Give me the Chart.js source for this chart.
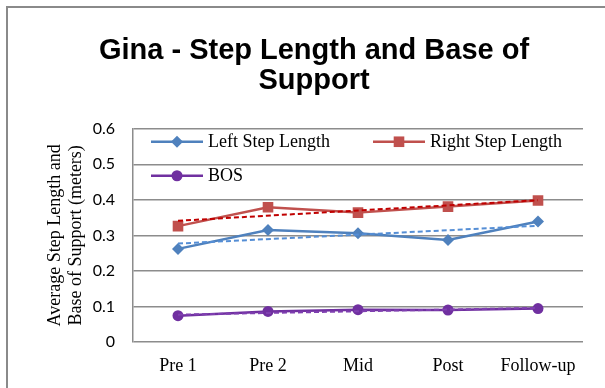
<!DOCTYPE html>
<html>
<head>
<meta charset="utf-8">
<script src="https://cdn.jsdelivr.net/npm/chart.js@4.4.0/dist/chart.umd.min.js"></script>
<style>
    body { margin: 0; background: #fff; overflow: hidden; }
    #marco { position: absolute; left: 6px; top: 6px; width: 700px; height: 500px; border: 2px solid #8a8a8a; }
    #caixa { position: absolute; left: 0; top: 0; width: 605px; height: 388px; }
</style>
</head>
<body>
<div id="marco"></div>
<div id="caixa"><canvas id="grafico" width="605" height="388"></canvas></div>
<script>
var sessoes = ['Pre 1', 'Pre 2', 'Mid', 'Post', 'Follow-up'];
var passoEsquerdo = [0.262, 0.315, 0.306, 0.287, 0.339];
var passoDireito = [0.326, 0.379, 0.364, 0.381, 0.398];
var bos = [0.074, 0.086, 0.091, 0.090, 0.094];

// linhas de tendencia (so o inicio e o fim)
var tendEsquerdo = [0.277, null, null, null, 0.327];
var tendDireito = [0.341, null, null, null, 0.399];
var tendBos = [0.077, null, null, null, 0.096];

var ticksY = [0, 0.1, 0.2, 0.3, 0.4, 0.5, 0.6];

function serie(label, dados, cor, estilo, raio) {
    return {
        label: label,
        data: dados,
        borderColor: cor,
        backgroundColor: cor,
        borderWidth: 2.5,
        pointStyle: estilo,
        pointRadius: raio,
        pointHoverRadius: raio,
        pointBorderWidth: 0,
        tension: 0,
        order: 1
    };
}

function tendencia(dados, cor) {
    return {
        label: 'tendencia',
        data: dados,
        borderColor: cor,
        borderWidth: 2,
        borderDash: [5, 3],
        pointRadius: 0,
        spanGaps: true,
        tension: 0,
        order: 0
    };
}

// legenda desenhada dentro da area do grafico, como no Excel
const legendaInterna = {
    id: 'legendaInterna',
    afterDraw(chart) {
        const ctx = chart.ctx;
        const area = chart.chartArea;
        const posicoes = [[18, 13], [240, 13], [18, 47]];
        ctx.save();
        for (var i = 0; i < 3; i++) {
            var ds = chart.data.datasets[i];
            var x = area.left + posicoes[i][0];
            var y = area.top + posicoes[i][1];
            ctx.strokeStyle = ds.borderColor;
            ctx.fillStyle = ds.borderColor;
            ctx.lineWidth = 2.5;
            ctx.beginPath();
            ctx.moveTo(x, y);
            ctx.lineTo(x + 52, y);
            ctx.stroke();
            Chart.helpers.drawPoint(ctx, { pointStyle: ds.pointStyle, radius: ds.pointRadius, borderWidth: 0, rotation: 0 }, x + 26, y);
            ctx.fillStyle = '#000';
            ctx.font = '18px "Liberation Serif"';
            ctx.textBaseline = 'middle';
            ctx.textAlign = 'left';
            ctx.fillText(ds.label, x + 57, y + 1);
        }
        ctx.restore();
    }
};

const config = {
    type: 'line',
    data: {
        labels: sessoes,
        datasets: [
            serie('Left Step Length', passoEsquerdo, '#4f81bd', 'rectRot', 6),
            serie('Right Step Length', passoDireito, '#c0504d', 'rect', 7.5),
            serie('BOS', bos, '#7030a0', 'circle', 5.5),
            tendencia(tendEsquerdo, '#558ed5'),
            tendencia(tendDireito, '#c00000'),
            tendencia(tendBos, '#7f3fb0')
        ]
    },
    options: {
        responsive: false,
        devicePixelRatio: 1,
        animation: false,
        layout: { padding: { left: 45, right: 22, top: 0, bottom: 0 } },
        plugins: {
            legend: { display: false },
            tooltip: { enabled: false },
            title: {
                display: true,
                text: ['Gina - Step Length and Base of', 'Support'],
                color: '#000',
                font: { family: '"Liberation Sans"', size: 29, weight: 'bold', lineHeight: 1.03 },
                padding: { top: 36, bottom: 33 }
            }
        },
        scales: {
            x: {
                offset: true,
                afterFit: function (eixo) { eixo.height = 46; },
                grid: { display: false, drawTicks: false },
                border: { display: false },
                ticks: { color: '#000', padding: 13, font: { family: '"Liberation Serif"', size: 18 } }
            },
            y: {
                min: 0,
                max: 0.6,
                afterFit: function (eixo) { eixo.width = 88; },
                afterBuildTicks: function (eixo) {
                    eixo.ticks = ticksY.map(function (v) { return { value: v }; });
                },
                grid: { color: '#8c8c8c', lineWidth: 1.5, drawTicks: false },
                border: { display: true, color: '#8c8c8c', width: 1.5 },
                ticks: { color: '#000', padding: 18, font: { family: 'Lato', size: 16 } },
                title: {
                    display: true,
                    text: ['Average Step Length and', 'Base of Support (meters)'],
                    color: '#000',
                    font: { family: '"Liberation Serif"', size: 18, lineHeight: 1.17 },
                    padding: { top: 0, bottom: 6 }
                }
            }
        }
    },
    plugins: [legendaInterna]
};

new Chart(document.getElementById('grafico'), config);
</script>
</body>
</html>
